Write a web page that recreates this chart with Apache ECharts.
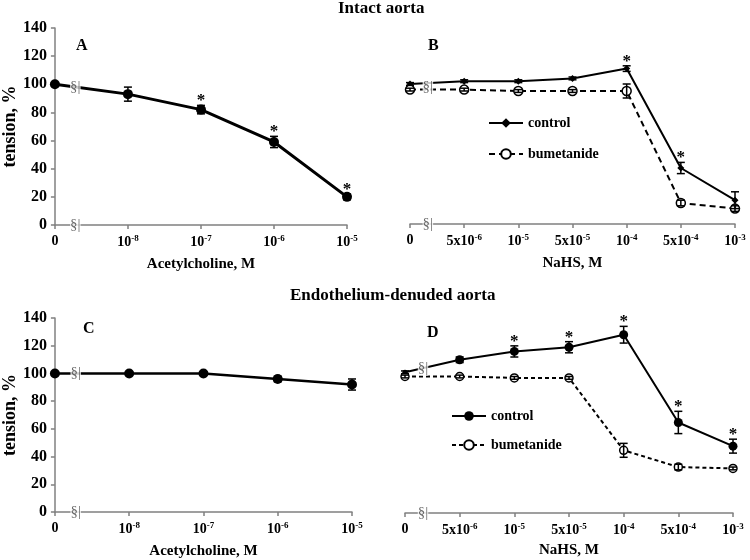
<!DOCTYPE html>
<html><head><meta charset="utf-8">
<script src="https://cdn.jsdelivr.net/npm/echarts@6/dist/echarts.min.js"></script>
<style>html,body{margin:0;padding:0;background:#fff}#c{width:750px;height:560px}</style>
</head><body><div id="c"></div>
<script>
// ---- data ----
const achLabels = ['0', '10^-8', '10^-7', '10^-6', '10^-5'];
const nahsLabels = ['0', '5x10^-6', '10^-5', '5x10^-5', '10^-4', '5x10^-4', '10^-3'];
const yTicks = [0, 20, 40, 60, 80, 100, 120, 140];

const aTension = [100, 93, 82, 59, 20];
const aErr = [1, 5, 3, 4, 2];
const aStar = [0, 0, 1, 1, 1];

const bControl = [100, 102, 102, 104, 111, 40, 17];
const bControlErr = [1, 1, 1, 1, 2, 4, 6];
const bControlStar = [0, 0, 0, 0, 1, 1, 0];
const bBumetanide = [96, 96, 95, 95, 95, 15, 11];
const bBumetanideErr = [1, 1, 1, 1, 5, 2, 2];

const cTension = [100, 100, 100, 96, 92];
const cErr = [0, 0, 1, 2, 4];

const dControl = [101, 110, 116, 119, 128, 65, 48];
const dControlErr = [1, 2, 4, 4, 6, 8, 5];
const dControlStar = [0, 0, 1, 1, 1, 1, 1];
const dBumetanide = [98, 98, 97, 97, 45, 33, 32];
const dBumetanideErr = [1, 1, 1, 1, 5, 2, 1];

// axis-break glyph positions (x in category units, y in tension units)
const breakA = [[0.28, 98], [0.28, 0]];
const breakB = [[0.33, 98], [0.33, 0]];
const breakC = [[0.28, 100], [0.28, 0]];
const breakD = [[0.33, 104], [0.33, 0]];

// ---- helpers ----
const FONT = 'Liberation Serif';
const AX = '#808080';
const pairs = arr => arr.map((v, i) => [i, v]);
const errData = (vals, errs, stars) => vals.map((v, i) => [i, v, errs[i], stars ? stars[i] : 0]);
const fmt = lbls => v => {
  const s = lbls[Math.round(v)];
  if (s === undefined) return '';
  const m = s.split('^');
  return m.length > 1 ? '{n|' + m[0] + '}{s|' + m[1] + '}' : '{n|' + s + '}';
};
const rich = {
  n: { fontFamily: FONT, fontWeight: 'bold', fontSize: 14, color: '#000' },
  s: { fontFamily: FONT, fontWeight: 'bold', fontSize: 9, color: '#000', padding: [0, 0, 8, 0] }
};

function xAxis(idx, lbls, name, gap) {
  return {
    type: 'value', gridIndex: idx, min: 0, max: lbls.length - 1, interval: 1,
    axisLine: { show: true, lineStyle: { color: AX, width: 1.5 } },
    axisTick: { show: true, length: 4, lineStyle: { color: AX, width: 1.5 } },
    splitLine: { show: false },
    axisLabel: { formatter: fmt(lbls), rich: rich, margin: 9 },
    name: name, nameLocation: 'middle', nameGap: gap,
    nameTextStyle: { fontFamily: FONT, fontWeight: 'bold', fontSize: 15, color: '#000' }
  };
}
function yAxis(idx, show) {
  return {
    type: 'value', gridIndex: idx, min: yTicks[0], max: yTicks[yTicks.length - 1], interval: 20,
    axisLine: { show: show, lineStyle: { color: AX, width: 1.5 } },
    axisTick: { show: show, length: 4, lineStyle: { color: AX, width: 1.5 } },
    splitLine: { show: false },
    axisLabel: { show: show, margin: 8, fontFamily: FONT, fontWeight: 'bold', fontSize: 16, color: '#000' },
    name: show ? 'tension, %' : '', nameLocation: 'middle', nameGap: 34, nameRotate: 90,
    nameTextStyle: { fontFamily: FONT, fontWeight: 'bold', fontSize: 18, color: '#000' }
  };
}
function errRender(params, api) {
  const x = api.value(0), y = api.value(1), e = api.value(2), star = api.value(3);
  const top = api.coord([x, y + e]), bot = api.coord([x, y - e]);
  const ch = [];
  if (e > 0) {
    const st = { stroke: '#000', lineWidth: 1.5 };
    ch.push({ type: 'line', shape: { x1: top[0], y1: top[1], x2: bot[0], y2: bot[1] }, style: st });
    ch.push({ type: 'line', shape: { x1: top[0] - 4, y1: top[1], x2: top[0] + 4, y2: top[1] }, style: st });
    ch.push({ type: 'line', shape: { x1: bot[0] - 4, y1: bot[1], x2: bot[0] + 4, y2: bot[1] }, style: st });
  }
  if (star) {
    ch.push({ type: 'text', style: { text: '*', x: top[0], y: top[1] + 4, align: 'center', verticalAlign: 'bottom',
      font: 'bold 17px "Liberation Serif"', fill: '#000' } });
  }
  return { type: 'group', children: ch };
}
function errSeries(idx, data) {
  return { type: 'custom', xAxisIndex: idx, yAxisIndex: idx, data: data, renderItem: errRender, z: 5, silent: true };
}
function breakSeries(idx, data) {
  return {
    type: 'scatter', xAxisIndex: idx, yAxisIndex: idx, data: data, symbolSize: 0, z: 6, silent: true,
    label: { show: true, position: 'inside', formatter: '§|', fontFamily: FONT, fontSize: 15, color: '#444',
      backgroundColor: '#fff', padding: [0, 0] }
  };
}
function lineSeries(name, idx, vals, opt) {
  return Object.assign({
    type: 'line', name: name, xAxisIndex: idx, yAxisIndex: idx, data: pairs(vals), z: 4,
    symbol: 'circle', symbolSize: 10,
    lineStyle: { color: '#000', width: 2.5 },
    itemStyle: { color: '#000' }
  }, opt);
}

const legendStyle = { fontFamily: FONT, fontWeight: 'bold', fontSize: 14, color: '#000' };
const titleStyle = { fontFamily: FONT, fontWeight: 'bold', fontSize: 17, color: '#000' };
const letterStyle = { fontFamily: FONT, fontWeight: 'bold', fontSize: 16, color: '#000' };

const option = {
  animation: false,
  backgroundColor: '#fff',
  title: [
    { text: 'Intact aorta', left: 338, top: 0, padding: 0, textStyle: titleStyle },
    { text: 'Endothelium-denuded aorta', left: 290, top: 287, padding: 0, textStyle: titleStyle },
    { text: 'A', left: 76, top: 38, padding: 0, textStyle: letterStyle },
    { text: 'B', left: 428, top: 38, padding: 0, textStyle: letterStyle },
    { text: 'C', left: 83, top: 321, padding: 0, textStyle: letterStyle },
    { text: 'D', left: 427, top: 325, padding: 0, textStyle: letterStyle }
  ],
  legend: [
    { data: ['control', 'bumetanide'], orient: 'vertical', left: 488, top: 116, itemGap: 17, itemWidth: 34, itemHeight: 12,
      textStyle: legendStyle, formatter: n => n.trim(), selectedMode: false, padding: 0 },
    { data: ['control ', 'bumetanide '], orient: 'vertical', left: 451, top: 409, itemGap: 15, itemWidth: 34, itemHeight: 12,
      textStyle: legendStyle, formatter: n => n.trim(), selectedMode: false, padding: 0 }
  ],
  grid: [
    { left: 52, top: 28, width: 295, height: 197 },
    { left: 410, top: 28, width: 325, height: 196 },
    { left: 52, top: 318, width: 300, height: 195 },
    { left: 405, top: 318, width: 328, height: 195 }
  ],
  xAxis: [
    xAxis(0, achLabels, 'Acetylcholine, M', 32),
    xAxis(1, nahsLabels, 'NaHS, M', 32),
    xAxis(2, achLabels, 'Acetylcholine, M', 32),
    xAxis(3, nahsLabels, 'NaHS, M', 30)
  ],
  yAxis: [yAxis(0, true), yAxis(1, false), yAxis(2, true), yAxis(3, false)],
  series: [
    lineSeries('A', 0, aTension, { lineStyle: { color: '#000', width: 3 } }),
    errSeries(0, errData(aTension, aErr, aStar)),
    breakSeries(0, breakA),

    lineSeries('control', 1, bControl, { symbol: 'diamond', symbolSize: 7, lineStyle: { color: '#000', width: 2 } }),
    lineSeries('bumetanide', 1, bBumetanide, { symbolSize: 9, lineStyle: { color: '#000', width: 2, type: [6, 4] },
      itemStyle: { color: '#fff', borderColor: '#000', borderWidth: 1.5 } }),
    errSeries(1, errData(bControl, bControlErr, bControlStar)),
    errSeries(1, errData(bBumetanide, bBumetanideErr)),
    breakSeries(1, breakB),

    lineSeries('C', 2, cTension, { lineStyle: { color: '#000', width: 2.5 } }),
    errSeries(2, errData(cTension, cErr)),
    breakSeries(2, breakC),

    lineSeries('control ', 3, dControl, { symbolSize: (v, p) => (p.dataIndex === 0 ? 5 : 9), lineStyle: { color: '#000', width: 2 } }),
    lineSeries('bumetanide ', 3, dBumetanide, { symbolSize: 8, lineStyle: { color: '#000', width: 2, type: [4, 3] },
      itemStyle: { color: '#fff', borderColor: '#000', borderWidth: 1.5 } }),
    errSeries(3, errData(dControl, dControlErr, dControlStar)),
    errSeries(3, errData(dBumetanide, dBumetanideErr)),
    breakSeries(3, breakD)
  ]
};
const chart = echarts.init(document.getElementById('c'), null, { renderer: 'canvas' });
chart.setOption(option);
</script>
</body></html>
